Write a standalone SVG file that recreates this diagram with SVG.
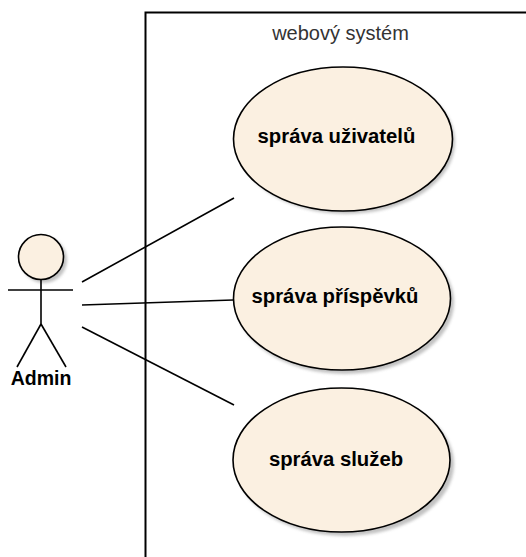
<svg xmlns="http://www.w3.org/2000/svg" width="526" height="557" viewBox="0 0 526 557">
<style>
.uc{fill:#FBF0E1;stroke:#000;stroke-width:1.6}
.sh{fill:#9a9a9a;opacity:0.6}
.lbl{font-family:"Liberation Sans",Arial,sans-serif;font-weight:bold;font-size:20.3px;fill:#000;text-anchor:middle}
.act{font-family:"Liberation Sans",Arial,sans-serif;font-weight:bold;font-size:19.5px;fill:#000;text-anchor:middle}
.ttl{font-family:"Liberation Sans",Arial,sans-serif;font-size:20px;fill:#333;text-anchor:middle}
.ln{stroke:#000;stroke-width:1.6;fill:none}
</style>
<defs>
<filter id="blur" x="-20%" y="-20%" width="140%" height="140%"><feGaussianBlur stdDeviation="1.5"/></filter>
</defs>
<rect width="526" height="557" fill="#fff"/>
<g id="system">
<path d="M145.5,557 V12.5 H526" fill="none" stroke="#000" stroke-width="2"/>
<text class="ttl" x="340.5" y="40">webový systém</text>
</g>
<g id="connectors">
<line class="ln" x1="82" y1="282" x2="234" y2="198"/>
<line class="ln" x1="82" y1="305" x2="233" y2="300"/>
<line class="ln" x1="82" y1="327" x2="234" y2="405"/>
</g>
<g id="actor">
<circle class="sh" cx="44" cy="260" r="23" filter="url(#blur)"/>
<circle class="uc" cx="41" cy="257" r="22.5"/>
<line class="ln" x1="8" y1="290" x2="73" y2="290"/>
<line class="ln" x1="41" y1="280" x2="41" y2="324"/>
<line class="ln" x1="41" y1="324" x2="17" y2="367"/>
<line class="ln" x1="41" y1="324" x2="66" y2="367"/>
<text class="act" x="41" y="385">Admin</text>
</g>
<g id="uc1">
<ellipse class="sh" cx="346" cy="142" rx="109" ry="72" filter="url(#blur)"/>
<ellipse class="uc" cx="343" cy="139" rx="109.5" ry="72"/>
<text class="lbl" x="336.5" y="143">správa uživatelů</text>
</g>
<g id="uc2">
<ellipse class="sh" cx="345" cy="302" rx="109" ry="72" filter="url(#blur)"/>
<ellipse class="uc" cx="342" cy="298.5" rx="108.5" ry="71.5"/>
<text class="lbl" x="335" y="303">správa příspěvků</text>
</g>
<g id="uc3">
<ellipse class="sh" cx="345" cy="464" rx="109" ry="72" filter="url(#blur)"/>
<ellipse class="uc" cx="341.5" cy="460" rx="108.5" ry="72"/>
<text class="lbl" x="336" y="466">správa služeb</text>
</g>
</svg>
